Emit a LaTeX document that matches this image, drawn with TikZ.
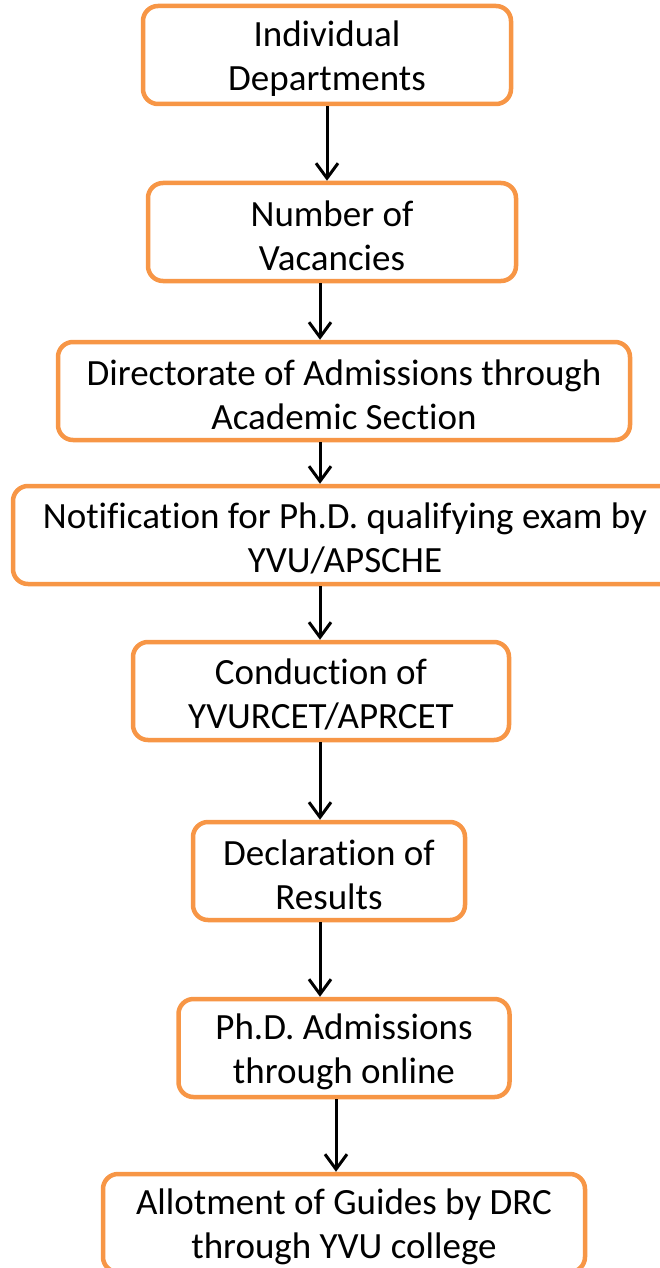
\documentclass[tikz,border=0pt]{standalone}
\usepackage{fontspec}
\setmainfont{Carlito}[Ligatures={NoCommon}]
\usetikzlibrary{arrows.meta, positioning}
\definecolor{boxorange}{RGB}{247, 150, 70}
\newcommand{\topgap}{\rule{0pt}{33pt}}

\begin{document}
\begin{tikzpicture}[
    x=1pt, y=-1pt,
    stage/.style={rectangle, draw=boxorange, fill=white, line width=4.5pt, rounded corners=15pt, minimum height=98pt, align=center, inner sep=0pt, font=\fontsize{37}{44}\selectfont},
    flow/.style={draw=black, line width=3pt, -{Straight Barb[length=15pt, width=22pt, line width=3pt]}}
]
    \useasboundingbox (0,0) rectangle (660,1268);

    % Stages
    \node[stage, minimum width=368pt] (dept) at (327,55) {\topgap Individual\\Departments};
    \node[stage, minimum width=368pt] (vac) at (332,232) {\topgap Number of\\Vacancies};
    \node[stage, minimum width=572pt] (dir) at (344,391) {\topgap Directorate of Admissions through\\Academic Section};
    \node[stage, minimum width=664pt] (notif) at (345,535) {\topgap Notification for Ph.D. qualifying exam by\\YVU/APSCHE};
    \node[stage, minimum width=376pt] (cond) at (321,691) {\topgap Conduction of\\YVURCET/APRCET};
    \node[stage, minimum width=272pt] (decl) at (329,871) {\topgap Declaration of\\Results};
    \node[stage, minimum width=331pt] (adm) at (344,1048) {\topgap Ph.D. Admissions\\through online};
    \node[stage, minimum width=482pt] (guide) at (344,1223) {\topgap Allotment of Guides by DRC\\through YVU college};

    % Arrows
    \draw[flow] (dept.south) -- (dept.south |- vac.north);
    \draw[flow] ([xshift=-12pt]vac.south) -- ([xshift=-12pt]vac.south |- dir.north);
    \draw[flow] ([xshift=-24pt]dir.south) -- ([xshift=-24pt]dir.south |- notif.north);
    \draw[flow] ([xshift=-25pt]notif.south) -- ([xshift=-25pt]notif.south |- cond.north);
    \draw[flow] ([xshift=-1pt]cond.south) -- ([xshift=-1pt]cond.south |- decl.north);
    \draw[flow] ([xshift=-9pt]decl.south) -- ([xshift=-9pt]decl.south |- adm.north);
    \draw[flow] ([xshift=-8pt]adm.south) -- ([xshift=-8pt]adm.south |- guide.north);
\end{tikzpicture}
\end{document}
